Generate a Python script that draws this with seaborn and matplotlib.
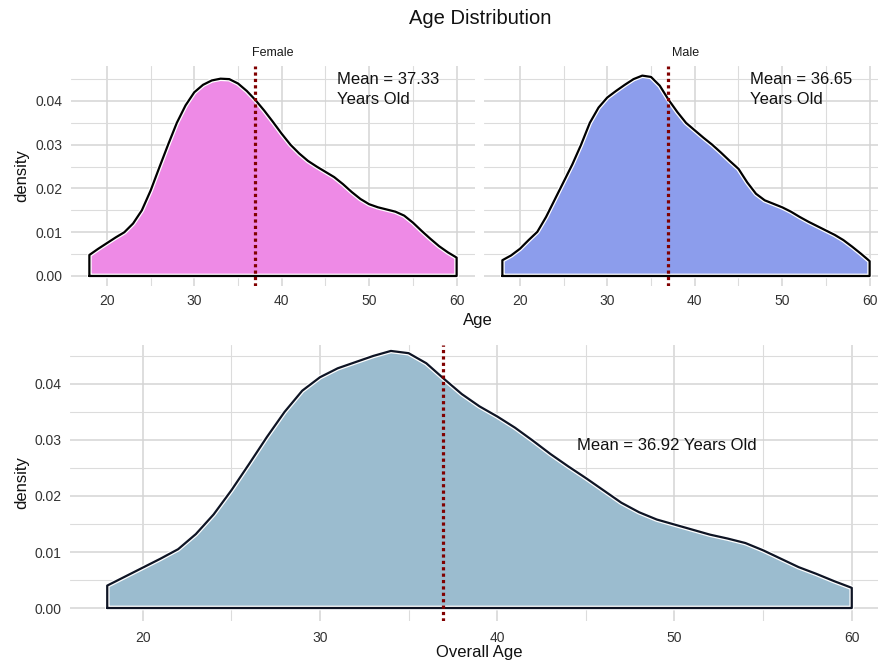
import matplotlib
matplotlib.use("Agg")
import matplotlib.pyplot as plt
from matplotlib.ticker import MultipleLocator
import seaborn as sns

# ---------------- data ----------------
ages = list(range(18, 61))

female_density = [0.0048, 0.0062, 0.0075, 0.0088, 0.0100, 0.0120, 0.0150, 0.0195,
                  0.0248, 0.0300, 0.0350, 0.0390, 0.0420, 0.0437, 0.0447, 0.0451,
                  0.0450, 0.0440, 0.0423, 0.0402, 0.0378, 0.0352, 0.0325, 0.0300,
                  0.0280, 0.0263, 0.0250, 0.0238, 0.0226, 0.0210, 0.0192, 0.0176,
                  0.0164, 0.0157, 0.0152, 0.0147, 0.0138, 0.0122, 0.0103, 0.0085,
                  0.0068, 0.0054, 0.0042]

male_density = [0.0036, 0.0047, 0.0062, 0.0082, 0.0101, 0.0135, 0.0175, 0.0215,
                0.0255, 0.0300, 0.0350, 0.0385, 0.0408, 0.0423, 0.0437, 0.0450,
                0.0458, 0.0455, 0.0435, 0.0403, 0.0375, 0.0350, 0.0333, 0.0316,
                0.0300, 0.0282, 0.0263, 0.0245, 0.0214, 0.0188, 0.0173, 0.0165,
                0.0157, 0.0147, 0.0135, 0.0124, 0.0114, 0.0104, 0.0094, 0.0082,
                0.0067, 0.0051, 0.0034]

overall_density = [0.0040, 0.0056, 0.0072, 0.0088, 0.0105, 0.0132, 0.0167, 0.0210,
                   0.0257, 0.0305, 0.0350, 0.0388, 0.0412, 0.0428, 0.0439, 0.0450,
                   0.0459, 0.0455, 0.0437, 0.0409, 0.0382, 0.0360, 0.0342, 0.0322,
                   0.0299, 0.0275, 0.0253, 0.0232, 0.0210, 0.0188, 0.0171, 0.0158,
                   0.0149, 0.0140, 0.0131, 0.0124, 0.0116, 0.0103, 0.0088, 0.0073,
                   0.0061, 0.0048, 0.0036]

facet_labels = ["Female", "Male"]
group_means = [37.33, 36.65]
overall_mean = 36.92
mean_line_x = 36.92

x_ticks = [20, 30, 40, 50, 60]
y_ticks = [0.00, 0.01, 0.02, 0.03, 0.04]
y_tick_labels = ["0.00", "0.01", "0.02", "0.03", "0.04"]

# ---------------- style ----------------
sns.set_theme(style="white")
plt.rcParams["font.family"] = ["Liberation Sans", "DejaVu Sans"]

W, H = 879, 663
fig = plt.figure(figsize=(W / 100, H / 100), dpi=100)


def px_axes(x0, y0, x1, y1):
    return fig.add_axes([x0 / W, 1 - y1 / H, (x1 - x0) / W, (y1 - y0) / H])


GRID = "#d4d4d4"
TICK_COLOR = "#333333"


def style_axes(ax, ylim, xpad, ypad):
    ax.set_facecolor("white")
    for s in ax.spines.values():
        s.set_visible(False)
    ax.set_xlim(15.9, 62.1)
    ax.set_ylim(*ylim)
    ax.set_xticks(x_ticks)
    ax.set_xticklabels([str(t) for t in x_ticks])
    ax.set_yticks(y_ticks)
    ax.set_yticklabels(y_tick_labels)
    ax.xaxis.set_minor_locator(MultipleLocator(5))
    ax.yaxis.set_minor_locator(MultipleLocator(0.005))
    ax.grid(True, which="major", color=GRID, linewidth=1.1)
    ax.grid(True, which="minor", color="#dcdcdc", linewidth=0.8)
    ax.set_axisbelow(True)
    ax.tick_params(axis="both", which="both", length=0, labelsize=10,
                   labelcolor=TICK_COLOR)
    ax.tick_params(axis="x", pad=xpad)
    ax.tick_params(axis="y", pad=ypad)
    ax.set_xlabel("")
    ax.set_ylabel("")


def draw_density(ax, dens, fill, edge):
    ax.fill_between(ages, 0, dens, color=fill, linewidth=0, zorder=2)
    xs = [ages[0]] + ages + [ages[-1], ages[0]]
    ys = [0.0] + dens + [0.0, 0.0]
    sns.lineplot(x=xs, y=ys, sort=False, color="white", linewidth=3.4,
                 ax=ax, zorder=3, estimator=None)
    sns.lineplot(x=xs, y=ys, sort=False, color=edge, linewidth=1.6,
                 ax=ax, zorder=4, estimator=None)
    ax.axvline(mean_line_x, color="#800000", linewidth=2.3,
               linestyle=(0, (1.0, 1.0)), zorder=5)


# ---------------- top facets ----------------
top_ylim = (-0.00229, 0.048)
ax_f = px_axes(71, 66, 475, 286)
ax_m = px_axes(484, 66, 888, 286)

for ax, dens, fill, lab, mval in [
    (ax_f, female_density, "#EE8AE6", facet_labels[0], group_means[0]),
    (ax_m, male_density, "#8C9DEC", facet_labels[1], group_means[1]),
]:
    style_axes(ax, top_ylim, xpad=6, ypad=6)
    draw_density(ax, dens, fill, "black")
    ax.text(46.3, 0.0426, f"Mean = {mval:.2f}\nYears Old", ha="left",
            va="center", fontsize=12, color="#111111", linespacing=1.45,
            zorder=6)
    ax.set_title(lab, fontsize=9, color="#1a1a1a", pad=7)

ax_m.tick_params(axis="y", labelleft=False)

# ---------------- bottom panel ----------------
ax_o = px_axes(70, 345, 889, 621)
style_axes(ax_o, (-0.00232, 0.04696), xpad=7, ypad=6)
draw_density(ax_o, overall_density, "#9BBCCF", "#0e1424")
ax_o.text(44.5, 0.0291, f"Mean = {overall_mean:.2f} Years Old", ha="left",
          va="center", fontsize=12, color="#111111", zorder=6)

# ---------------- labels ----------------
fig.text(480 / W, 1 - 18 / H, "Age Distribution", ha="center", va="center",
         fontsize=14.5, color="#111111")
fig.text(478 / W, 1 - 320 / H, "Age", ha="center", va="center",
         fontsize=12, color="#111111")
fig.text(22 / W, 1 - 176 / H, "density", ha="center", va="center",
         rotation=90, fontsize=12, color="#111111")
fig.text(22 / W, 1 - 483 / H, "density", ha="center", va="center",
         rotation=90, fontsize=12, color="#111111")
fig.text(479 / W, 1 - 652 / H, "Overall Age", ha="center", va="center",
         fontsize=12, color="#111111")

fig.savefig("out.png", dpi=100, facecolor="white")
